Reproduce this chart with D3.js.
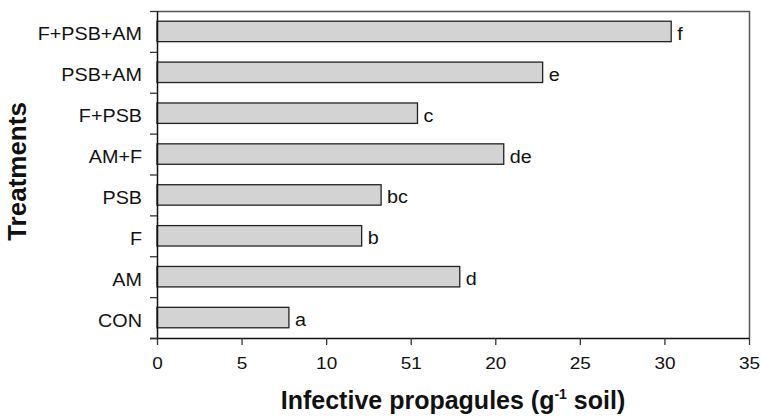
<!DOCTYPE html>
<html><head><meta charset="utf-8">
<script src="https://cdn.jsdelivr.net/npm/d3@7"></script>
<style>body{margin:0;background:#fff}svg{display:block}text{font-family:"Liberation Sans",Arial,Helvetica,sans-serif}</style>
</head><body><svg id="c" width="762" height="417"></svg>
<script>
const categories = ["F+PSB+AM","PSB+AM","F+PSB","AM+F","PSB","F","AM","CON"];
const values = [30.4, 22.8, 15.4, 20.5, 13.25, 12.1, 17.9, 7.8];
const letters = ["f","e","c","de","bc","b","d","a"];
const xTickValues = [0,5,10,15,20,25,30,35];
const xTickLabels = ["0","5","10","51","20","25","30","35"];

const W = 762, H = 417;
const m = {l:157, r:13, t:11, b:79};
const SX = 1.13;
const svg = d3.select("#c");
const x = d3.scaleLinear().domain([0,35]).range([m.l, W-m.r]);
const y = d3.scaleBand().domain(categories).range([m.t, H-m.b]).padding(0);
const step = y.step();

// frame (top & right)
svg.append("path")
  .attr("d", `M${x(0)},${m.t+0.5}H${x(35)+0.5}V${H-m.b}`)
  .attr("fill","none").attr("stroke","#555").attr("stroke-width",1.5);

// bars
svg.append("g").selectAll("rect").data(categories).join("rect")
  .attr("x", x(0))
  .attr("y", d => y(d) + step*0.25)
  .attr("width", (d,i) => x(values[i]) - x(0))
  .attr("height", step*0.5)
  .attr("fill","#d3d3d3").attr("stroke","#222").attr("stroke-width",1.3);

// letters
svg.append("g").selectAll("text").data(categories).join("text")
  .attr("transform", (d,i) => `translate(${x(values[i]) + 6},${y(d) + step/2 + 8.5}) scale(${SX},1)`)
  .attr("font-size", 17.5).attr("fill","#111")
  .text((d,i) => letters[i]);

// x axis
const xa = svg.append("g").attr("transform", `translate(0,${H-m.b})`)
  .call(d3.axisBottom(x).tickValues(xTickValues).tickSize(7).tickPadding(12.5)
    .tickFormat((d,i) => xTickLabels[i]));
xa.select(".domain").attr("stroke","#111").attr("stroke-width",1.5)
  .attr("d", `M${x(0)-7},0.5H${x(35)}`);
xa.selectAll(".tick line").attr("stroke","#333").attr("stroke-width",1.3);
xa.selectAll(".tick text").attr("font-size",16.5).attr("font-family","'Liberation Sans',Arial,sans-serif").attr("fill","#111")
  .attr("transform", `scale(1.15,1)`);

// y axis boundaries ticks
const yb = d3.scaleLinear().domain([0, categories.length]).range([m.t, H-m.b]);
const ya = svg.append("g").attr("transform", `translate(${m.l},0)`)
  .call(d3.axisLeft(yb).tickValues(d3.range(0, categories.length+1)).tickSize(7).tickFormat(""));
ya.select(".domain").attr("stroke","#111").attr("stroke-width",1.5).attr("d", `M0.5,${m.t}V${H-m.b}`);
ya.selectAll(".tick line").attr("stroke","#333").attr("stroke-width",1.3);

// category labels
svg.append("g").selectAll("text").data(categories).join("text")
  .attr("transform", d => `translate(${m.l - 15},${y(d) + step/2 + 9}) scale(${SX},1)`)
  .attr("text-anchor","end").attr("font-size",17.5).attr("fill","#111")
  .text(d => d);

// axis titles
const xt = svg.append("text").attr("x", (278+628)/2).attr("y", 409)
  .attr("text-anchor","middle").attr("font-size",25).attr("font-weight","bold").attr("fill","#111");
xt.append("tspan").text("Infective propagules (g");
xt.append("tspan").attr("dy",-10).attr("font-size",14).text("-1");
xt.append("tspan").attr("dy",10).text(" soil)");

svg.append("text").attr("transform", `translate(26,171.5) rotate(-90)`)
  .attr("text-anchor","middle").attr("font-size",26).attr("font-weight","bold").attr("fill","#111")
  .text("Treatments");
</script></body></html>
